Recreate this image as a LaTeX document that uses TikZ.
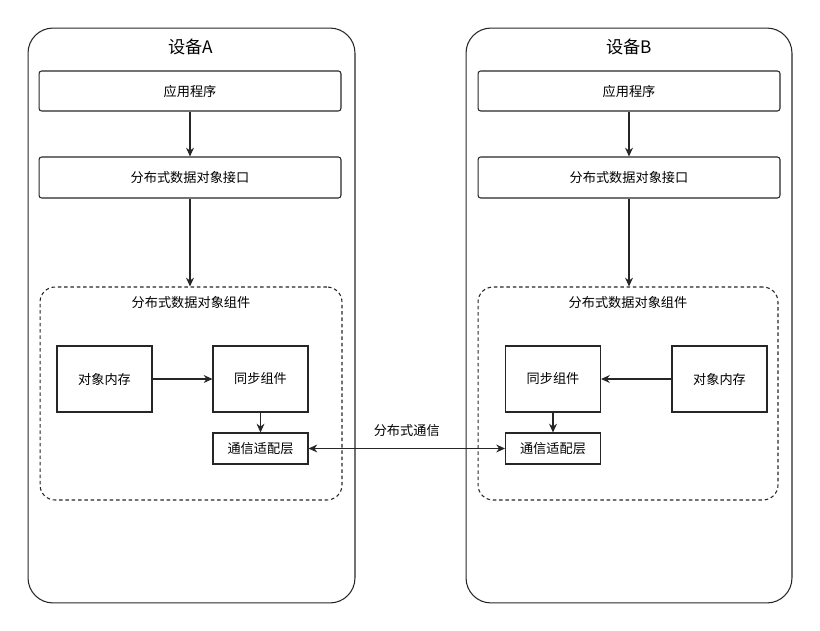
\documentclass[tikz,border=0pt]{standalone}
\usepackage{fontspec}
\setmainfont{Noto Sans CJK SC}
\usetikzlibrary{arrows.meta}

\tikzset{
	DeviceStyle/.style = {draw=black!85,line width=0.6pt,rounded corners=0.5cm,minimum width=6.54cm,minimum height=11.5cm},
	LayerStyle/.style = {draw=black!85,line width=0.6pt,rounded corners=1.5pt,minimum width=6.04cm,font=\fontsize{7.5}{9}\selectfont},
	GroupStyle/.style = {draw=black!85,line width=0.6pt,dash pattern=on 2pt off 1.6pt,rounded corners=0.3cm,minimum height=4.26cm},
	BlockStyle/.style = {draw=black!85,line width=0.6pt,minimum width=1.9cm,minimum height=1.32cm,font=\fontsize{7.5}{9}\selectfont},
	PortStyle/.style = {draw=black!85,line width=0.6pt,minimum width=1.9cm,minimum height=0.62cm,font=\fontsize{7.5}{9}\selectfont},
	TitleStyle/.style = {font=\fontsize{9.8}{12}\selectfont},
	SubTitleStyle/.style = {font=\fontsize{7.5}{9}\selectfont},
	EdgeStyle/.style = {draw=black!85,line width=0.6pt,-{Stealth[length=5pt,width=4.5pt]}}
}

\begin{document}
\begin{tikzpicture}[x=0.02cm,y=-0.02cm]
		\useasboundingbox (0,0) rectangle (820,631);
		% device A
		\node[DeviceStyle] (DevA) at (191.5,315.5) {};
		\node[TitleStyle] (TitleA) at (191,47) {设备A};
		\node[LayerStyle,minimum height=0.8cm] (AppA) at (190,91) {应用程序};
		\node[LayerStyle,minimum height=0.82cm] (ApiA) at (190,177.5) {分布式数据对象接口};
		\node[GroupStyle,minimum width=6.04cm] (CompA) at (191,393.5) {};
		\node[SubTitleStyle] (CompTitleA) at (191,302) {分布式数据对象组件};
		\node[BlockStyle] (MemA) at (104.5,379) {对象内存};
		\node[BlockStyle] (SyncA) at (260.5,379) {同步组件};
		\node[PortStyle] (CommA) at (260.5,448.5) {通信适配层};
		% device B
		\node[DeviceStyle,minimum width=6.52cm] (DevB) at (629,315.5) {};
		\node[TitleStyle] (TitleB) at (629,47) {设备B};
		\node[LayerStyle,minimum height=0.8cm] (AppB) at (629,91) {应用程序};
		\node[LayerStyle,minimum height=0.82cm] (ApiB) at (629,177.5) {分布式数据对象接口};
		\node[GroupStyle,minimum width=6.0cm] (CompB) at (628,393.5) {};
		\node[SubTitleStyle] (CompTitleB) at (628,302) {分布式数据对象组件};
		\node[BlockStyle] (SyncB) at (553,379) {同步组件};
		\node[BlockStyle] (MemB) at (719.5,379) {对象内存};
		\node[PortStyle] (CommB) at (553,448.5) {通信适配层};
		%\draw[help lines] (0,0) grid[step=50] (820,631);
		\draw[EdgeStyle] (AppA) -- (ApiA);
		\draw[EdgeStyle] (ApiA.south) -- (ApiA.south |- CompA.north);
		\draw[EdgeStyle] (MemA) -- (SyncA);
		\draw[EdgeStyle] (SyncA) -- (CommA);
		\draw[EdgeStyle] (AppB) -- (ApiB);
		\draw[EdgeStyle] (ApiB.south) -- (ApiB.south |- CompB.north);
		\draw[EdgeStyle] (MemB) -- (SyncB);
		\draw[EdgeStyle] (SyncB) -- (CommB);
		{
			\tikzset{EdgeStyle/.append style = {{Stealth[length=5pt,width=4.5pt]}-{Stealth[length=5pt,width=4.5pt]}}}
			\draw[EdgeStyle] (CommA) -- node[SubTitleStyle,above=3pt] (CommLabel) {分布式通信} (CommB);
		}
\end{tikzpicture}
\end{document}
